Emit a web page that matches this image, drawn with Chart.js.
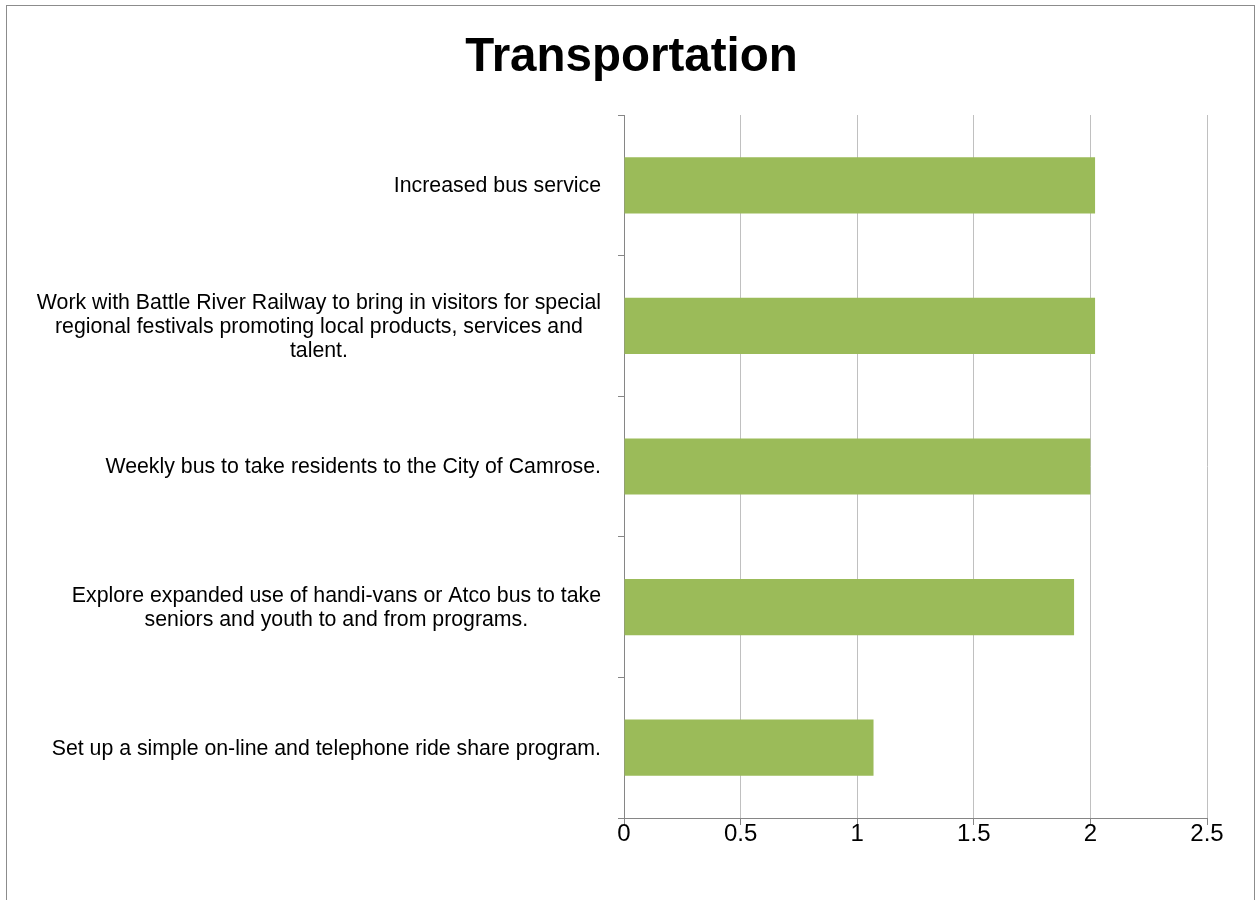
<!DOCTYPE html>
<html>
<head>
<meta charset="utf-8">
<title>Transportation</title>
<script src="https://cdn.jsdelivr.net/npm/chart.js@4.4.1/dist/chart.umd.min.js"></script>
<style>
  html, body { margin: 0; padding: 0; background: #ffffff; overflow: hidden; }
  #wrap { position: relative; width: 1255px; height: 900px; }
  #frame {
    position: absolute; left: 6px; top: 5px; width: 1249px; height: 1000px;
    border: 1px solid #8c8c8c; box-sizing: border-box; pointer-events: none;
  }
  canvas { position: absolute; left: 0; top: 0; }
</style>
</head>
<body>
<div id="wrap">
  <canvas id="chart" width="1255" height="900"></canvas>
  <div id="frame"></div>
</div>
<script>
// Survey items, top to bottom, with their wrapped label lines
const categories = [
  ["Increased bus service"],
  ["Work with Battle River Railway to bring in visitors for special",
   "regional festivals promoting local products, services and",
   "talent."],
  ["Weekly bus to take residents to the City of Camrose."],
  ["Explore expanded use of handi-vans or Atco bus to take",
   "seniors and youth to and from programs."],
  ["Set up a simple on-line and telephone ride share program."]
];

// Average rating for each item
const ratings = [2.02, 2.02, 2.0, 1.93, 1.07];

// Value axis ticks
const xTicks = [0, 0.5, 1, 1.5, 2, 2.5];

const chartTitle = 'Transportation';

const FONT = '"Liberation Sans", Arial, Helvetica, sans-serif';
const AXIS_GREY = '#868686';
const GRID_GREY = '#c0c0c0';

// Title centred over the whole frame, and category labels:
// each block right-aligned against the axis, lines centred within the block
const textLayer = {
  id: 'textLayer',
  afterDraw(chart) {
    const ctx = chart.ctx;
    ctx.save();
    ctx.fillStyle = '#000000';

    ctx.font = 'bold 47.5px ' + FONT;
    ctx.textAlign = 'center';
    ctx.textBaseline = 'alphabetic';
    ctx.fillText(chartTitle, 631.5, 71);

    const y = chart.scales.y;
    const right = chart.chartArea.left - 23;
    const lineH = 24;
    ctx.font = '21.3px ' + FONT;
    ctx.textBaseline = 'middle';
    categories.forEach((lines, i) => {
      const cy = y.getPixelForValue(i) + 1;
      const w = Math.max(...lines.map(l => ctx.measureText(l).width));
      const cx = right - w / 2;
      const top = cy - (lines.length - 1) * lineH / 2;
      lines.forEach((l, k) => ctx.fillText(l, cx, top + k * lineH));
    });
    ctx.restore();
  }
};

new Chart(document.getElementById('chart'), {
  type: 'bar',
  data: {
    labels: categories.map(c => c.join(' ')),
    datasets: [{
      data: ratings,
      backgroundColor: '#9BBB59',
      borderWidth: 0,
      barPercentage: 0.4,
      categoryPercentage: 1.0
    }]
  },
  options: {
    indexAxis: 'y',
    responsive: false,
    animation: false,
    devicePixelRatio: 1,
    layout: { padding: { left: 0, right: 48, top: 115, bottom: 0 } },
    plugins: {
      legend: { display: false },
      tooltip: { enabled: false },
      title: { display: false }
    },
    scales: {
      x: {
        min: 0,
        max: 2.5,
        afterBuildTicks(scale) { scale.ticks = xTicks.map(v => ({ value: v })); },
        afterFit(scale) { scale.height = 82; },
        grid: {
          color: GRID_GREY,
          lineWidth: 1,
          drawTicks: true,
          tickLength: 7,
          tickColor: AXIS_GREY
        },
        border: { display: true, color: AXIS_GREY, width: 1 },
        ticks: {
          color: '#000000',
          padding: -3,
          font: { family: FONT, size: 24, lineHeight: 1 },
          callback: v => String(v)
        }
      },
      y: {
        afterFit(scale) { scale.width = 624; },
        grid: {
          drawOnChartArea: false,
          drawTicks: true,
          tickLength: 6,
          color: AXIS_GREY,
          offset: true
        },
        border: { display: true, color: AXIS_GREY, width: 1 },
        ticks: { display: false }
      }
    }
  },
  plugins: [textLayer]
});
</script>
</body>
</html>
